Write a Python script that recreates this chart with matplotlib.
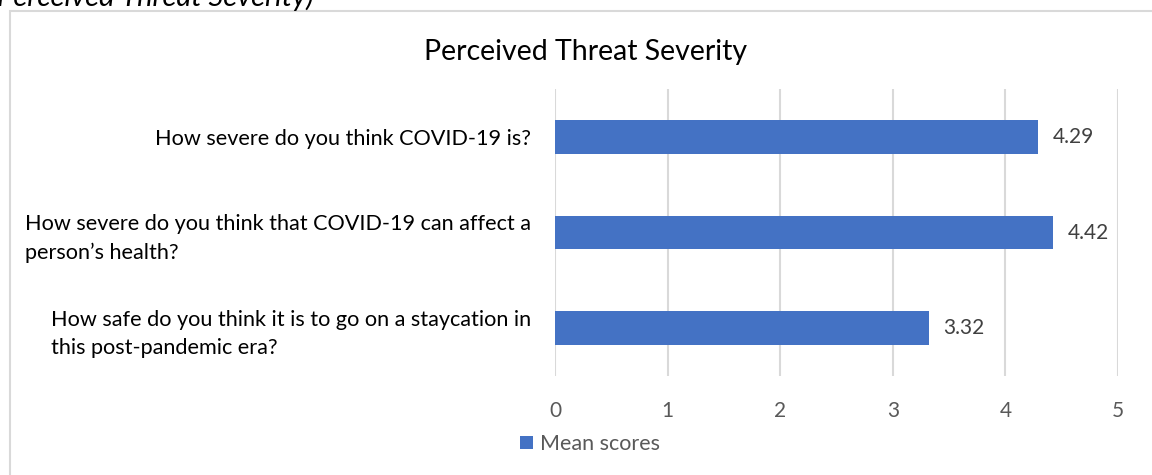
import matplotlib.pyplot as plt
from matplotlib.patches import Rectangle

plt.rcParams['font.family'] = ['Lato', 'DejaVu Sans']

# Data
questions = [
    "How severe do you think COVID-19 is?",
    "How severe do you think that COVID-19 can affect a\nperson\u2019s health?",
    "How safe do you think it is to go on a staycation in\nthis post-pandemic era?",
]
mean_scores = [4.29, 4.42, 3.32]
x_ticks = [0, 1, 2, 3, 4, 5]

W, H = 1152, 475
fig = plt.figure(figsize=(W / 100, H / 100), dpi=100)

# chart frame (cut off on the right and bottom)
fig.patches.append(Rectangle((10 / W, -0.2), 1.2, 1.2 - 11 / H,
                             transform=fig.transFigure, fill=False,
                             edgecolor='#d9d9d9', linewidth=1.5))

# caption above the chart, clipped by the top edge
fig.text(-3 / W, 1 - 6 / H, "Perceived Threat Severity)", fontsize=21,
         style='italic', ha='left', va='baseline', color='black')

ax = fig.add_axes([555 / W, 1 - 376 / H, (1118 - 555) / W, (376 - 89) / H])
y = list(range(len(questions)))
bars = ax.barh(y, mean_scores, height=0.35, color='#4472C4', label='Mean scores', zorder=3)

ax.set_xlim(0, 5)
ax.set_ylim(2.5, -0.5)
ax.set_xticks(x_ticks)
ax.set_yticks(y)
ax.set_yticklabels(questions, fontsize=15.6, color='black', multialignment='left',
                   linespacing=1.5)
ax.tick_params(axis='y', length=0, pad=17)
ax.tick_params(axis='x', length=0, pad=18, labelsize=15, labelcolor='#595959')
ax.grid(axis='x', color='#d9d9d9', linewidth=1.5, zorder=0)
for s in ax.spines.values():
    s.set_visible(False)

for b, v in zip(bars, mean_scores):
    ax.text(v + 0.13, b.get_y() + b.get_height() / 2, f"{v:.2f}",
            va='center', ha='left', fontsize=15, color='#404040')

fig.text(586 / W, 1 - 52 / H, "Perceived Threat Severity", fontsize=20.5,
         ha='center', va='center', color='black')

fig.legend(handles=[bars], labels=['Mean scores'], loc='center',
           bbox_to_anchor=(590 / W, 1 - 444 / H), frameon=False, fontsize=15.5,
           handlelength=0.6, handleheight=0.6, handletextpad=0.3,
           labelcolor='#595959')

fig.savefig('out.png', dpi=100)
